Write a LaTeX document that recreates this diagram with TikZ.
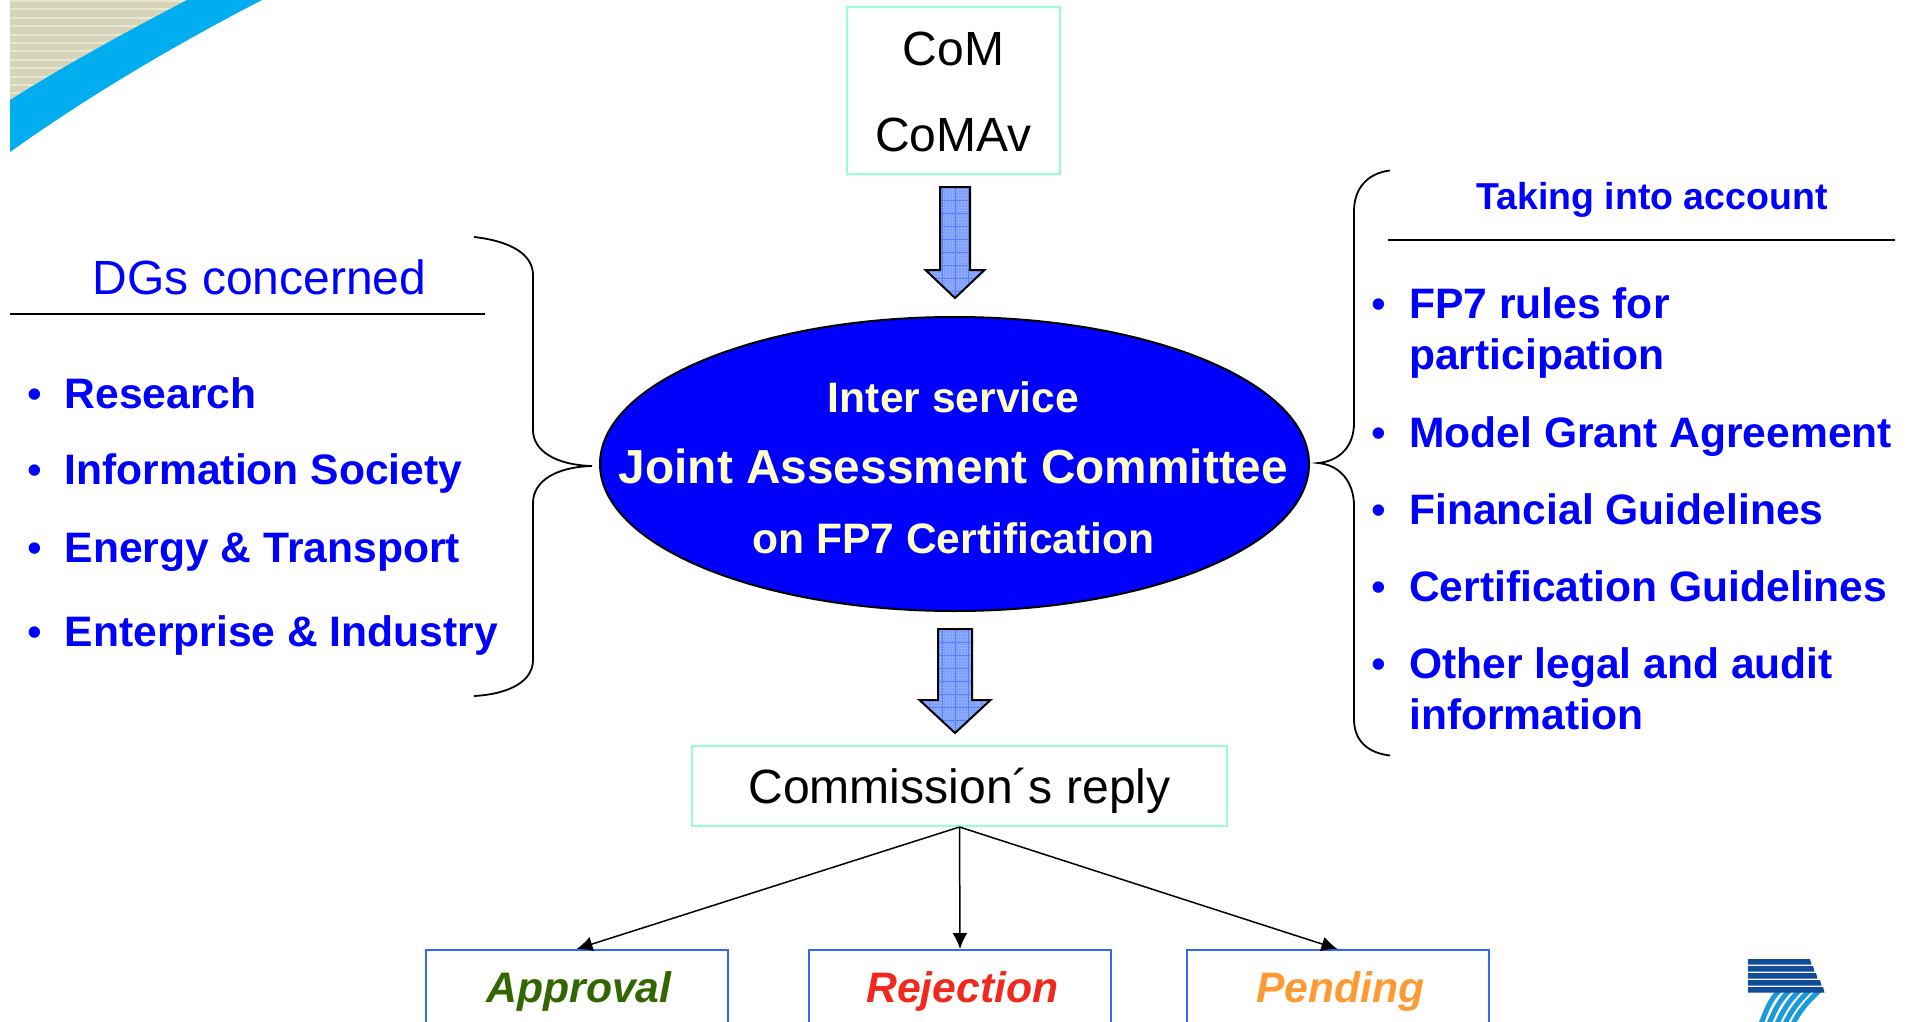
\documentclass[tikz,border=0pt]{standalone}
\usepackage{fontspec}
\setmainfont{Liberation Sans}
\usetikzlibrary{shapes.geometric,arrows.meta,patterns}
\definecolor{listblue}{HTML}{0000FF}
\definecolor{ovalblue}{HTML}{0000FF}
\definecolor{paleyellow}{HTML}{FFFFCC}
\definecolor{mint}{HTML}{99FFCC}
\definecolor{boxblue}{HTML}{3366FF}
\definecolor{okgreen}{HTML}{336600}
\definecolor{noRed}{HTML}{F0281E}
\definecolor{waitorange}{HTML}{FF9933}
\definecolor{skyband}{HTML}{00AEEF}
\definecolor{beige}{HTML}{D6D4B8}
\definecolor{beigelt}{HTML}{E8E6D0}
\definecolor{logodark}{HTML}{0F4C9C}
\definecolor{logolight}{HTML}{1A9ADB}
\definecolor{arrowfill}{HTML}{7F9FFF}
\definecolor{arrowgrid}{HTML}{5580FF}
\definecolor{arrowdots}{HTML}{B4C8FF}
\newcommand{\fs}[1]{\fontsize{#1}{#1}\selectfont}
\newcommand{\bul}[1]{\makebox[#1][l]{{\fs{42}\mdseries •}}}
\tikzset{
  mintbox/.style={draw=mint,line width=2pt,inner sep=0pt,text=black,align=center},
  answerbox/.style={draw=boxblue,line width=2pt,inner sep=0pt,minimum width=302pt,minimum height=76pt,text height=30pt,text depth=2pt,font=\fs{42.7}\bfseries\itshape},
  listitem/.style={anchor=base west,inner sep=0pt,text=listblue,align=left,font=\fs{42.6}\bfseries},
  ovaltext/.style={anchor=base,inner sep=0pt,text=paleyellow,font=\fs{42.6}\bfseries},
  rule/.style={line width=1.6pt,black},
  bracecurve/.style={line width=1.8pt,black},
  answerarrow/.style={line width=1.5pt,black,-{Latex[length=16pt,width=15pt]}},
  blockoutline/.style={draw=black,line width=2pt,line join=miter},
}
% block arrow: #1 centre x, #2 half shaft width, #3 half head width, #4 top, #5 shoulder, #6 tip
\newcommand{\blockarrow}[6]{%
  \begin{scope}
    \clip (#1-#2,#4) -- (#1+#2,#4) -- (#1+#2,#5) -- (#1+#3,#5) -- (#1,#6) -- (#1-#3,#5) -- (#1-#2,#5) -- cycle;
    \fill[arrowfill] (#1-#3,#4) rectangle (#1+#3,#6);
    \fill[pattern=crosshatch dots,pattern color=arrowdots] (#1-#3,#4) rectangle (#1+#3,#6);
    \foreach \k in {-5,...,5} \draw[arrowgrid,line width=0.8pt] (#1+\k*13,#4) -- (#1+\k*13,#6);
    \foreach \k in {1,...,9} \draw[arrowgrid,line width=0.8pt] (#1-#3,#4+\k*13) -- (#1+#3,#4+\k*13);
  \end{scope}
  \draw[blockoutline] (#1-#2,#4) -- (#1+#2,#4) -- (#1+#2,#5) -- (#1+#3,#5) -- (#1,#6) -- (#1-#3,#5) -- (#1-#2,#5) -- cycle;
}
\begin{document}
\begin{tikzpicture}[x=1pt,y=-1pt]
\useasboundingbox (0,0) rectangle (1908,1022);
\clip (0,0) rectangle (1908,1022);

% top-left corner graphic
\begin{scope}
  \clip (10,0) -- (190,0) .. controls (130,30) and (70,62) .. (10,100) -- cycle;
  \fill[beige] (10,0) rectangle (190,100);
  \foreach \k in {0,...,11} \draw[beigelt,line width=2pt] (10,\k*8.4+1) -- (190,\k*8.4+1);
\end{scope}
\fill[skyband] (10,100) .. controls (70,62) and (130,30) .. (187,0) -- (262,0) .. controls (175,45) and (90,95) .. (10,152) -- cycle;

% logo
\begin{scope}
  \foreach \a/\b in {1762/1781,1770/1791,1778/1801,1786/1811,1794/1821} {
    \draw[logolight,line width=5pt] (\a-2,1026) .. controls (\a+4,1012) and (\b-12,1000) .. (\b,989);
  }
  \foreach \t/\r in {959/1810,966/1813,973/1816,980/1820,987/1823} {
    \fill[logodark] (1748,\t) -- (\r,\t) -- (\r+1.5,\t+5.5) -- (1748,\t+5.5) -- cycle;
  }
\end{scope}

% CoM box
\node[mintbox,minimum width=213pt,minimum height=167pt,font=\fontsize{48}{86.5}\selectfont] (com) at (953.5,90.5) {\rule{0pt}{36.2pt}CoM\\CoMAv};

% oval
\node[ellipse,draw=black,line width=2pt,fill=ovalblue,minimum width=709pt,minimum height=294pt,inner sep=0pt] (jac) at (954.5,464) {};
\node[ovaltext] (jac1) at (953.5,412.5) {Inter service};
\node[ovaltext,font=\fs{47.8}\bfseries] (jac2) at (953.5,483) {Joint Assessment Committee};
\node[ovaltext] (jac3) at (953.5,553.5) {on FP7 Certification};

% block arrows
\blockarrow{955}{15}{29.5}{187}{270}{298}
\blockarrow{955}{17}{35.5}{629}{700}{733}

% reply
\node[mintbox,minimum width=535pt,minimum height=80pt,text height=34pt,text depth=0pt,font=\fs{48.1}] (reply) at (959.5,786) {Commission´s reply};

% answers
\node[answerbox,text=okgreen] (approval) at (576.5,988) {\hspace*{5pt}Approval};
\node[answerbox,text=noRed] (rejection) at (960,988) {\hspace*{5pt}Rejection};
\node[answerbox,text=waitorange] (pending) at (1337.5,988) {\hspace*{6pt}Pending};
\draw[answerarrow] (reply.south) -- (approval.north);
\draw[answerarrow] (reply.south) -- (rejection.north);
\draw[answerarrow] (reply.south) -- (pending.north);

% left panel
\node[anchor=base,inner sep=0pt,text=listblue,font=\fs{48}] (dgs) at (259.5,294) {DGs concerned};
\coordinate (dgsA) at (10,314);
\coordinate (dgsB) at (485,314);
\draw[rule] (dgsA) -- (dgsB);
\node[listitem] (l1) at (27,408) {\bul{37.5pt}Research};
\node[listitem] (l2) at (27,484) {\bul{37.5pt}Information Society};
\node[listitem] (l3) at (27,562) {\bul{37.5pt}Energy \& Transport};
\node[listitem] (l4) at (27,646) {\bul{37.5pt}Enterprise \& Industry};
\draw[bracecurve] (474,237) .. controls (510,241) and (533,254) .. (533,275) -- (533,430)
  .. controls (533,451) and (556,465) .. (592,466) .. controls (556,467) and (533,481) .. (533,503)
  -- (533,660) .. controls (533,681) and (510,694) .. (474,696);

% right panel
\node[anchor=base,inner sep=0pt,text=listblue,font=\fs{37.5}\bfseries] (taking) at (1652,209) {Taking into account};
\coordinate (takA) at (1388,240);
\coordinate (takB) at (1895,240);
\draw[rule] (takA) -- (takB);
\node[listitem] (r1) at (1371,318) {\bul{38pt}FP7 rules for};
\node[listitem] (r1b) at (1409,369) {participation};
\node[listitem] (r2) at (1371,447) {\bul{38pt}Model Grant Agreement};
\node[listitem] (r3) at (1371,524) {\bul{38pt}Financial Guidelines};
\node[listitem] (r4) at (1371,601) {\bul{38pt}Certification Guidelines};
\node[listitem] (r5) at (1371,678) {\bul{38pt}Other legal and audit};
\node[listitem] (r5b) at (1409,729) {information};
\draw[bracecurve] (1390,170.5) .. controls (1368,173) and (1354,188) .. (1354,211) -- (1354,423)
  .. controls (1354,446) and (1340,461) .. (1318,463) .. controls (1340,465) and (1354,482) .. (1354,506)
  -- (1354,719) .. controls (1354,741) and (1368,753) .. (1390,755.5);
\end{tikzpicture}
\end{document}
